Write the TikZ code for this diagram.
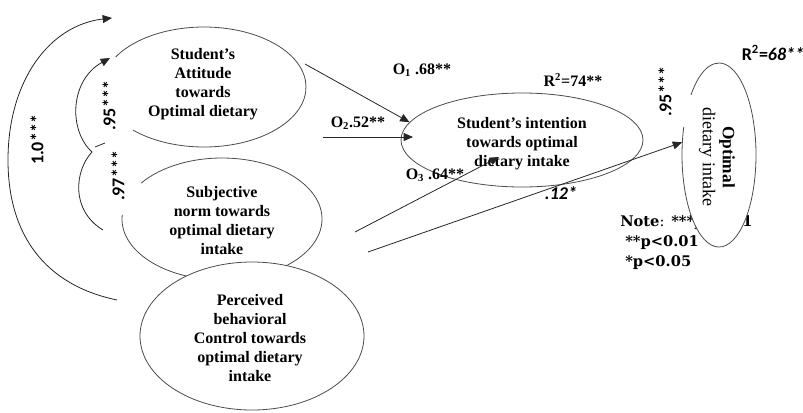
\documentclass[tikz,border=0pt]{standalone}
\usepackage{fontspec}
\usepackage{graphicx}
\setmainfont{Liberation Serif}
\newfontfamily\carl{Carlito}
\newfontfamily\notef{DejaVu Serif}
\usetikzlibrary{shapes.geometric,arrows.meta}
\begin{document}
\begin{tikzpicture}[x=0.75pt,y=-0.75pt,
  shp/.style={ellipse, inner sep=0pt, draw=none, fill=white},
  bord/.style={draw=black!70, line width=0.6pt},
  lbl/.style={font=\bfseries\fontsize{12}{14.25}\selectfont, align=center, inner sep=0pt},
  coef/.style={font=\bfseries\fontsize{12}{14}\selectfont, inner sep=0pt},
  scoef/.style={font=\carl\bfseries\fontsize{13.5}{16}\selectfont, inner sep=0pt},
  notestyle/.style={font=\notef\bfseries\fontsize{11}{14}\selectfont, inner sep=0pt, anchor=west},
  link/.style={draw=black!85, line width=0.6pt},
  arr/.style={link, -{Triangle[length=7pt,width=6pt]}},
]
\useasboundingbox (0,0) rectangle (803,412);

% ---- covariance curves (left)
\coordinate (oStart) at (117,300);
\coordinate (oMid) at (8,160);
\coordinate (oEnd) at (112,18);
\coordinate (cusp) at (92,152);
\coordinate (mEnd) at (110,58);
\coordinate (lEnd) at (103,230);
\coordinate (tickA) at (95,147);
\coordinate (tickB) at (105,143);

\draw[arr] (oStart) .. controls (45,285) and (8,235) .. (oMid)
  .. controls (8,80) and (50,25) .. (oEnd);
\draw[arr] (cusp) .. controls (68,130) and (70,80) .. (mEnd);
\draw[link] (cusp) .. controls (75,170) and (70,210) .. (lEnd);
\draw[link] (tickA) -- (tickB);

% ---- ellipses
\node[shp, minimum width=153pt, minimum height=90pt] (att) at (204,87) {};
\draw[bord] ([shift={(226:76.5pt and 45pt)}]att.center)
  arc[start angle=226, end angle=510, x radius=76.5pt, y radius=45pt];

\node[shp, minimum width=150pt, minimum height=91.5pt] (sub) at (222,219) {};
\draw[bord] ([shift={(176:75pt and 45.75pt)}]sub.center)
  arc[start angle=176, end angle=504, x radius=75pt, y radius=45.75pt];

\node[shp, bord, minimum width=168pt, minimum height=111pt] (pbc) at (252,336) {};

\node[shp, bord, fill=none, minimum width=181.5pt, minimum height=70.5pt] (int) at (522,140) {};

% ---- texts inside ellipses
\node[lbl] (attT) at (203,84) {Student’s\\Attitude\\towards\\Optimal dietary};
\node[lbl] (subT) at (222,221) {Subjective\\norm towards\\optimal dietary\\intake};
\node[lbl] (pbcT) at (250,338) {Perceived\\behavioral\\Control towards\\optimal dietary\\intake};
\node[lbl] (intT) at (522,144) {Student’s intention\\towards optimal\\dietary intake};

% ---- note (partly covered by the outcome ellipse)
\node[notestyle] (n1) at (620,223) {Note{\mdseries:} ***p<0.01};
\node[notestyle] (n2) at (625,243) {**p<0.01};
\node[notestyle] (n3) at (625,263) {*p<0.05};

% ---- outcome ellipse
\node[shp, minimum width=55.5pt, minimum height=138pt] (opt) at (719,155) {};
\draw[bord] ([shift={(162.3:27.75pt and 69pt)}]opt.center)
  arc[start angle=162.3, end angle=499.3, x radius=27.75pt, y radius=69pt];
\node[inner sep=0pt, rotate=-90, align=center, font=\fontsize{13}{15}\selectfont] (optT) at (717,157) {\textbf{Optimal}\\{\fontsize{13.5}{15}\selectfont dietary intake}};

% ---- paths
\coordinate (o1s) at (305,64);
\coordinate (o2s) at (323,137);
\coordinate (o2e) at (413,137);
\coordinate (o3s) at (355,232);
\coordinate (o3e) at (499,157);
\coordinate (o4s) at (368,252);
\draw[arr] (o1s) -- (int.171);
\draw[arr] (o2s) -- (o2e);
\draw[arr] (o3s) -- (o3e);
\draw[arr] (o4s) -- (opt.161);

% ---- coefficients
\node[coef] (c1) at (422,70) {O\textsubscript{1} .68**};
\node[coef] (r1) at (573,80) {R\textsuperscript{2}=74**};
\node[coef] (c2) at (358,123) {O\textsubscript{2}.52**};
\node[coef] (c3) at (435,175) {O\textsubscript{3} .64**};
\node[scoef] (c4) at (561,193) {\itshape .12*};
\node[scoef, rotate=90] (c5) at (665,92) {.95***};
\node[scoef] (r2) at (773,53) {R\textsuperscript{2}=\itshape 68**};
\node[scoef, rotate=90] (k1) at (37,140) {1.0***};
\node[scoef, rotate=90] (k2) at (109,106) {.95***};
\node[scoef, rotate=90] (k3) at (118,176) {.97***};
\end{tikzpicture}
\end{document}
